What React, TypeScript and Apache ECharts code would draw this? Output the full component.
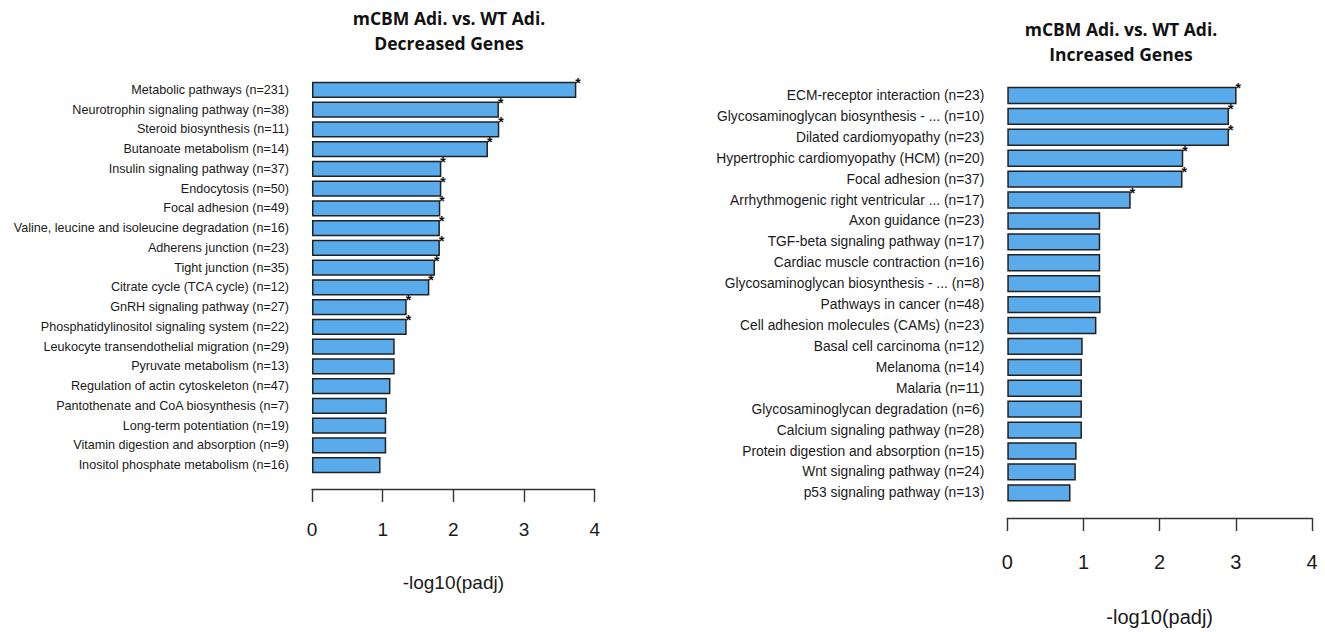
import React, { useEffect, useRef } from "react";
import * as echarts from "echarts";

const leftCategories = [
  "Metabolic pathways (n=231)",
  "Neurotrophin signaling pathway (n=38)",
  "Steroid biosynthesis (n=11)",
  "Butanoate metabolism (n=14)",
  "Insulin signaling pathway (n=37)",
  "Endocytosis (n=50)",
  "Focal adhesion (n=49)",
  "Valine, leucine and isoleucine degradation (n=16)",
  "Adherens junction (n=23)",
  "Tight junction (n=35)",
  "Citrate cycle (TCA cycle) (n=12)",
  "GnRH signaling pathway (n=27)",
  "Phosphatidylinositol signaling system (n=22)",
  "Leukocyte transendothelial migration (n=29)",
  "Pyruvate metabolism (n=13)",
  "Regulation of actin cytoskeleton (n=47)",
  "Pantothenate and CoA biosynthesis (n=7)",
  "Long-term potentiation (n=19)",
  "Vitamin digestion and absorption (n=9)",
  "Inositol phosphate metabolism (n=16)",
];
const leftValues = [3.74, 2.645, 2.65, 2.49, 1.83, 1.83, 1.815, 1.81, 1.81, 1.74, 1.66, 1.34, 1.34, 1.17, 1.17, 1.11, 1.06, 1.05, 1.05, 0.97];
const leftSignificant = [true, true, true, true, true, true, true, true, true, true, true, true, true, false, false, false, false, false, false, false];

const rightCategories = [
  "ECM-receptor interaction (n=23)",
  "Glycosaminoglycan biosynthesis - ... (n=10)",
  "Dilated cardiomyopathy (n=23)",
  "Hypertrophic cardiomyopathy (HCM) (n=20)",
  "Focal adhesion (n=37)",
  "Arrhythmogenic right ventricular ... (n=17)",
  "Axon guidance (n=23)",
  "TGF-beta signaling pathway (n=17)",
  "Cardiac muscle contraction (n=16)",
  "Glycosaminoglycan biosynthesis - ... (n=8)",
  "Pathways in cancer (n=48)",
  "Cell adhesion molecules (CAMs) (n=23)",
  "Basal cell carcinoma (n=12)",
  "Melanoma (n=14)",
  "Malaria (n=11)",
  "Glycosaminoglycan degradation (n=6)",
  "Calcium signaling pathway (n=28)",
  "Protein digestion and absorption (n=15)",
  "Wnt signaling pathway (n=24)",
  "p53 signaling pathway (n=13)",
];
const rightValues = [3.01, 2.91, 2.91, 2.31, 2.3, 1.62, 1.22, 1.22, 1.22, 1.22, 1.225, 1.17, 0.99, 0.98, 0.98, 0.98, 0.98, 0.91, 0.9, 0.83];
const rightSignificant = [true, true, true, true, true, true, false, false, false, false, false, false, false, false, false, false, false, false, false, false];

const xTicks = [0, 1, 2, 3, 4];
const axisTitle = "-log10(padj)";
const leftTitle = "mCBM Adi. vs. WT Adi.\nDecreased Genes";
const rightTitle = "mCBM Adi. vs. WT Adi.\nIncreased Genes";

const FONT = "'Liberation Sans', Arial, sans-serif";
const BAR_COLOR = "#5aabec";
const TEXT_COLOR = "#1a1a1a";

function xAxisCfg(gridIndex: number, offset: number, fontSize: number, margin: number, nameGap: number) {
  return {
    type: "value",
    gridIndex,
    min: xTicks[0],
    max: xTicks[xTicks.length - 1],
    interval: 1,
    position: "bottom",
    offset,
    name: axisTitle,
    nameLocation: "middle",
    nameGap,
    nameTextStyle: { fontFamily: FONT, fontSize, color: TEXT_COLOR },
    axisLine: { show: true, lineStyle: { color: "#333", width: 1.4 } },
    axisTick: { show: true, inside: false, length: 13, lineStyle: { color: "#333", width: 1.4 } },
    axisLabel: { fontFamily: FONT, fontSize, color: TEXT_COLOR, margin },
    splitLine: { show: false },
  };
}

function yAxisCfg(gridIndex: number, data: string[], fontSize: number) {
  return {
    type: "category",
    gridIndex,
    data,
    inverse: true,
    axisLine: { show: false },
    axisTick: { show: false },
    splitLine: { show: false },
    axisLabel: { fontFamily: FONT, fontSize, color: TEXT_COLOR, margin: 23 },
  };
}

function barSeries(idx: number, values: number[], sig: boolean[]) {
  return {
    type: "bar",
    xAxisIndex: idx,
    yAxisIndex: idx,
    data: values,
    barCategoryGap: "17%",
    itemStyle: { color: BAR_COLOR, borderColor: "#222", borderWidth: 1.5 },
    label: {
      show: true,
      position: "right",
      distance: 0,
      offset: [-1, -7],
      fontFamily: FONT,
      fontSize: 14,
      fontWeight: "bold",
      color: "#111",
      formatter: (p: any) => (sig[p.dataIndex] ? "*" : ""),
    },
  };
}

export default function App() {
  const ref = useRef<HTMLDivElement>(null);
  useEffect(() => {
    document.body.style.margin = "0";
    if (!ref.current) return;
    const chart = echarts.init(ref.current, undefined, { renderer: "svg" });
    chart.setOption({
      animation: false,
      backgroundColor: "#ffffff",
      grid: [
        { left: 312, width: 282.7, top: 80, height: 395, containLabel: false },
        { left: 1007.3, width: 304.7, top: 85, height: 419, containLabel: false },
      ],
      xAxis: [xAxisCfg(0, 14, 19, 31, 84), xAxisCfg(1, 14.7, 20, 34, 89)],
      yAxis: [yAxisCfg(0, leftCategories, 12.6), yAxisCfg(1, rightCategories, 13.8)],
      series: [barSeries(0, leftValues, leftSignificant), barSeries(1, rightValues, rightSignificant)],
      graphic: [
        {
          type: "text",
          x: 449,
          y: 5.5,
          style: {
            text: leftTitle,
            textAlign: "center",
            textVerticalAlign: "top",
            fontFamily: "'Open Sans', sans-serif",
            fontWeight: "bold",
            fontSize: 17.5,
            lineHeight: 25,
            fill: "#111",
          },
        },
        {
          type: "text",
          x: 1121,
          y: 16,
          style: {
            text: rightTitle,
            textAlign: "center",
            textVerticalAlign: "top",
            fontFamily: "'Open Sans', sans-serif",
            fontWeight: "bold",
            fontSize: 17.5,
            lineHeight: 25,
            fill: "#111",
          },
        },
      ],
    });
    return () => chart.dispose();
  }, []);
  return <div ref={ref} style={{ width: 1325, height: 632 }} />;
}
